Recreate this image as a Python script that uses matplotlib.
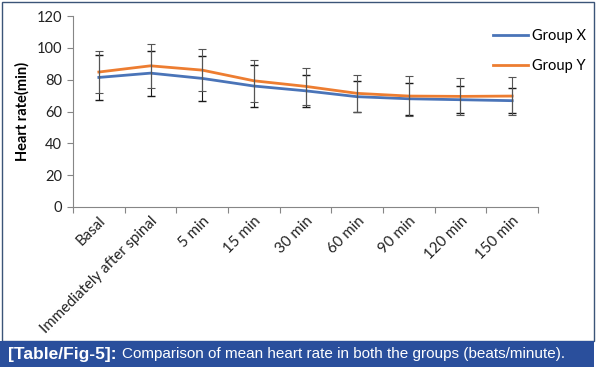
import matplotlib.pyplot as plt
from matplotlib.patches import Rectangle

categories = ["Basal", "Immediately after spinal", "5 min", "15 min", "30 min",
              "60 min", "90 min", "120 min", "150 min"]
group_x = [81.4, 84.1, 80.8, 76.0, 73.0, 69.3, 68.0, 67.4, 66.8]
group_y = [84.8, 88.7, 86.0, 79.3, 75.8, 71.4, 69.7, 69.5, 69.7]
sd_x = [14.0, 14.2, 14.0, 13.1, 10.2, 9.7, 10.0, 8.4, 7.9]
sd_y = [13.3, 13.8, 13.1, 13.1, 11.6, 11.7, 12.5, 11.7, 11.7]
yticks = [0, 20, 40, 60, 80, 100, 120]

plt.rcParams['font.family'] = ['Lato', 'DejaVu Sans']

W, H = 597, 374
fig = plt.figure(figsize=(W / 100, H / 100), dpi=100)

# frame round the chart
fig.patches.append(Rectangle((2 / W, 1 - 341 / H), 592 / W, 339 / H,
                             transform=fig.transFigure, fill=False,
                             ec='#3b5478', lw=1.0))
# caption bar
fig.patches.append(Rectangle((0, 1 - 367 / H), 594 / W, 26 / H,
                             transform=fig.transFigure, fc='#2a4f9c',
                             ec='none'))

ax = fig.add_axes([73 / W, 1 - 207 / H, 465 / W, 191 / H])
xs = list(range(len(categories)))

ax.errorbar(xs, group_x, yerr=sd_x, fmt='none', ecolor='#1a1a1a',
            elinewidth=0.8, capsize=3, capthick=1.0, zorder=3)
ax.errorbar(xs, group_y, yerr=sd_y, fmt='none', ecolor='#555555',
            elinewidth=0.8, capsize=3, capthick=0.8, zorder=3)
ax.plot(xs, group_x, color='#4a74b8', lw=2.0, label='Group X', zorder=2)
ax.plot(xs, group_y, color='#ed7d31', lw=2.0, label='Group Y', zorder=2)

ax.set_xlim(-0.5, len(categories) - 0.5)
ax.set_ylim(0, 120)
ax.set_yticks(yticks)
ax.set_yticklabels([str(v) for v in yticks], fontsize=10.5, color='#222222')
ax.set_xticks([i - 0.5 for i in range(len(categories) + 1)])
ax.set_xticklabels([])
ax.set_xticks(xs, minor=True)
ax.set_xticklabels(categories, minor=True, rotation=45, ha='right',
                   rotation_mode='anchor', fontsize=10.8, color='#222222')
ax.tick_params(axis='x', which='minor', length=0, pad=5)
ax.tick_params(axis='x', which='major', length=4, color='#868686')
ax.tick_params(axis='y', length=4, color='#868686', pad=4)
for s in ['top', 'right']:
    ax.spines[s].set_visible(False)
for s in ['left', 'bottom']:
    ax.spines[s].set_color('#868686')
    ax.spines[s].set_linewidth(0.8)
ax.set_ylabel('Heart rate(min)', fontsize=10.5, fontweight='bold', labelpad=5)

ax.legend(loc='upper left', bbox_to_anchor=(480 / W, 1 - 16 / H),
          bbox_transform=fig.transFigure, frameon=False, fontsize=10.5,
          handlelength=2.4, handletextpad=0.3, labelspacing=1.1)

# caption
t1 = fig.text(8 / W, 1 - 354 / H, '[Table/Fig-5]:', color='white',
              fontsize=12.5, fontweight='bold', family='Liberation Sans',
              va='center')
fig.canvas.draw()
bb = t1.get_window_extent()
fig.text((bb.x1 + 5) / W, 1 - 354 / H,
         'Comparison of mean heart rate in both the groups (beats/minute).',
         color='white', fontsize=11, family='Liberation Sans', va='center')

fig.savefig('out.png', dpi=100)
